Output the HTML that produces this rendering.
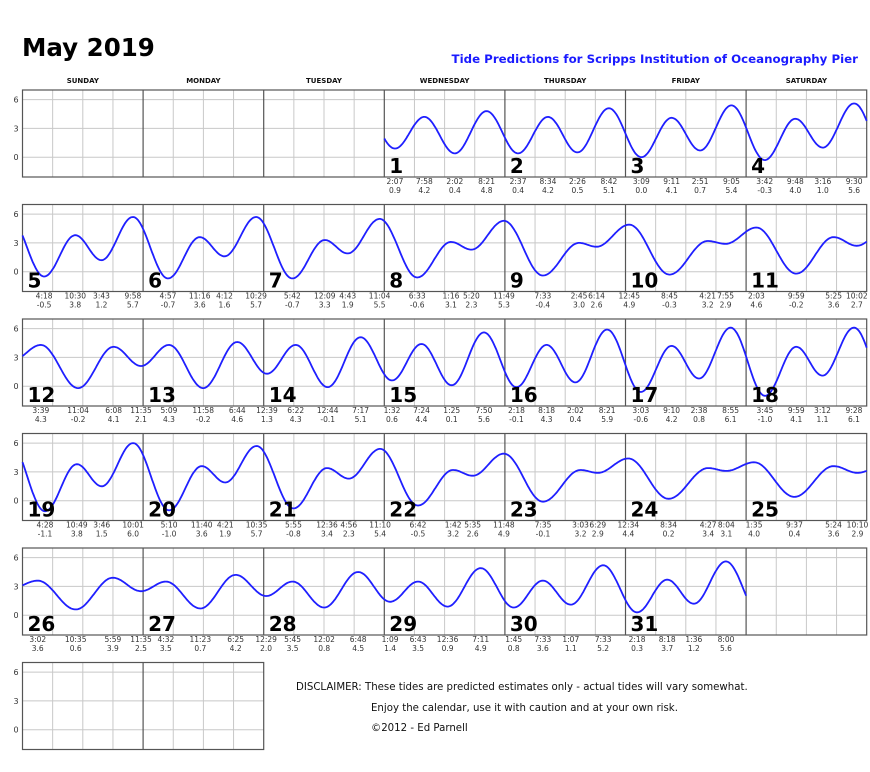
<!DOCTYPE html>
<html><head><meta charset="utf-8"><style>
body{margin:0;background:#fff;}
svg{display:block;font-family:"DejaVu Sans","Liberation Sans",sans-serif;}
</style></head><body>
<svg id="s" width="870" height="772" xmlns="http://www.w3.org/2000/svg">
<text x="22" y="56" font-size="24.5" font-weight="bold" fill="#000">May 2019</text>
<text x="858" y="63" font-size="11.8" font-weight="bold" fill="#1a1aff" text-anchor="end">Tide Predictions for Scripps Institution of Oceanography Pier</text>
<text x="296" y="690" font-size="10.2" fill="#111">DISCLAIMER: These tides are predicted estimates only - actual tides will vary somewhat.</text>
<text x="371" y="711" font-size="10.2" fill="#111">Enjoy the calendar, use it with caution and at your own risk.</text>
<text x="371" y="731" font-size="10.2" fill="#111">©2012 - Ed Parnell</text>
</svg>
<script>
var S=document.getElementById('s'),NS='http://www.w3.org/2000/svg';
function el(t,a,txt){var e=document.createElementNS(NS,t);for(var k in a)e.setAttribute(k,a[k]);if(txt!=null)e.textContent=txt;S.appendChild(e);return e;}
var X0=22.5,CW=120.6,TOP0=90,RS=114.5,PH=87,SC=9.6;
function yv(r,v){return TOP0+r*RS+(7.0-v)*SC;}
var days=['SUNDAY','MONDAY','TUESDAY','WEDNESDAY','THURSDAY','FRIDAY','SATURDAY'];
days.forEach(function(d,i){el('text',{x:X0+CW*i+CW/2,y:83,'font-size':7,'font-weight':'bold','text-anchor':'middle',fill:'#111'},d);});
var D={
1:"2:07 0.9,7:58 4.2,2:02 0.4,8:21 4.8",2:"2:37 0.4,8:34 4.2,2:26 0.5,8:42 5.1",3:"3:09 0.0,9:11 4.1,2:51 0.7,9:05 5.4",
4:"3:42 -0.3,9:48 4.0,3:16 1.0,9:30 5.6",5:"4:18 -0.5,10:30 3.8,3:43 1.2,9:58 5.7",6:"4:57 -0.7,11:16 3.6,4:12 1.6,10:29 5.7",
7:"5:42 -0.7,12:09 3.3,4:43 1.9,11:04 5.5",8:"6:33 -0.6,1:16 3.1,5:20 2.3,11:49 5.3",9:"7:33 -0.4,2:45 3.0,6:14 2.6",
10:"12:45 4.9,8:45 -0.3,4:21 3.2,7:55 2.9",11:"2:03 4.6,9:59 -0.2,5:25 3.6,10:02 2.7",12:"3:39 4.3,11:04 -0.2,6:08 4.1,11:35 2.1",
13:"5:09 4.3,11:58 -0.2,6:44 4.6",14:"12:39 1.3,6:22 4.3,12:44 -0.1,7:17 5.1",15:"1:32 0.6,7:24 4.4,1:25 0.1,7:50 5.6",
16:"2:18 -0.1,8:18 4.3,2:02 0.4,8:21 5.9",17:"3:03 -0.6,9:10 4.2,2:38 0.8,8:55 6.1",18:"3:45 -1.0,9:59 4.1,3:12 1.1,9:28 6.1",
19:"4:28 -1.1,10:49 3.8,3:46 1.5,10:01 6.0",20:"5:10 -1.0,11:40 3.6,4:21 1.9,10:35 5.7",21:"5:55 -0.8,12:36 3.4,4:56 2.3,11:10 5.4",
22:"6:42 -0.5,1:42 3.2,5:35 2.6,11:48 4.9",23:"7:35 -0.1,3:03 3.2,6:29 2.9",24:"12:34 4.4,8:34 0.2,4:27 3.4,8:04 3.1",
25:"1:35 4.0,9:37 0.4,5:24 3.6,10:10 2.9",26:"3:02 3.6,10:35 0.6,5:59 3.9,11:35 2.5",27:"4:32 3.5,11:23 0.7,6:25 4.2",
28:"12:29 2.0,5:45 3.5,12:02 0.8,6:48 4.5",29:"1:09 1.4,6:43 3.5,12:36 0.9,7:11 4.9",30:"1:45 0.8,7:33 3.6,1:07 1.1,7:33 5.2",
31:"2:18 0.3,8:18 3.7,1:36 1.2,8:00 5.6"};
var ext=[[-4,4.8]];var labs=[];
for(var d=1;d<=31;d++){var prev=-1;D[d].split(',').forEach(function(s){var p=s.split(' '),hm=p[0].split(':');var t=(+hm[0]%12)+(+hm[1])/60;while(t<=prev)t+=12;prev=t;ext.push([(d-1)*24+t,+p[1]]);labs.push([d,t,p[0],p[1]]);});}
ext.push([30*24+26.8,0.0]);
function val(T){for(var i=0;i<ext.length-1;i++){var a=ext[i],b=ext[i+1];if(T>=a[0]&&T<=b[0]){var f=(T-a[0])/(b[0]-a[0]);return a[1]+(b[1]-a[1])*(1-Math.cos(Math.PI*f))/2;}}return 0;}
function cell(d){var k=d+2;return [Math.floor(k/7),k%7];}
function grid(r,c){var x=X0+c*CW,t=TOP0+r*RS;
 for(var q=1;q<4;q++)el('line',{x1:x+q*CW/4,x2:x+q*CW/4,y1:t,y2:t+PH,stroke:'#c8c8c8','stroke-width':1});
 [6,3,0].forEach(function(v){el('line',{x1:x,x2:x+CW,y1:yv(r,v),y2:yv(r,v),stroke:'#c8c8c8','stroke-width':1});});}
var cells=[];
for(var r=0;r<5;r++)for(var c=0;c<7;c++)cells.push([r,c]);
cells.push([5,0]);cells.push([5,1]);
cells.forEach(function(rc){grid(rc[0],rc[1]);});
for(var r=0;r<6;r++){var n=r<5?7:2,t=TOP0+r*RS;
 el('rect',{x:X0,y:t,width:CW*n,height:PH,fill:'none',stroke:'#555','stroke-width':1.2});
 for(var c=1;c<n;c++)el('line',{x1:X0+c*CW,x2:X0+c*CW,y1:t,y2:t+PH,stroke:'#555','stroke-width':1.2});
 [6,3,0].forEach(function(v){el('text',{x:16,y:yv(r,v)+3,'font-size':8,'text-anchor':'middle',fill:'#333'},String(v));});}
for(var d=1;d<=31;d++){var rc=cell(d),x=X0+rc[1]*CW,pts=[];
 for(var i=0;i<=120;i++){var h=i*24/120;pts.push((x+h/24*CW).toFixed(1)+','+yv(rc[0],val((d-1)*24+h)).toFixed(1));}
 el('polyline',{points:pts.join(' '),fill:'none',stroke:'#1f1fff','stroke-width':1.8});
 el('text',{x:x+5,y:TOP0+rc[0]*RS+83,'font-size':20,'font-weight':'bold',fill:'#000'},String(d));}
labs.forEach(function(l){var rc=cell(l[0]),x=X0+rc[1]*CW+l[1]/24*CW,t=TOP0+rc[0]*RS;
 el('text',{x:x,y:t+94,'font-size':7.5,'text-anchor':'middle',fill:'#333'},l[2]);
 el('text',{x:x,y:t+103,'font-size':7.5,'text-anchor':'middle',fill:'#333'},l[3]);});
</script>
</body></html>
